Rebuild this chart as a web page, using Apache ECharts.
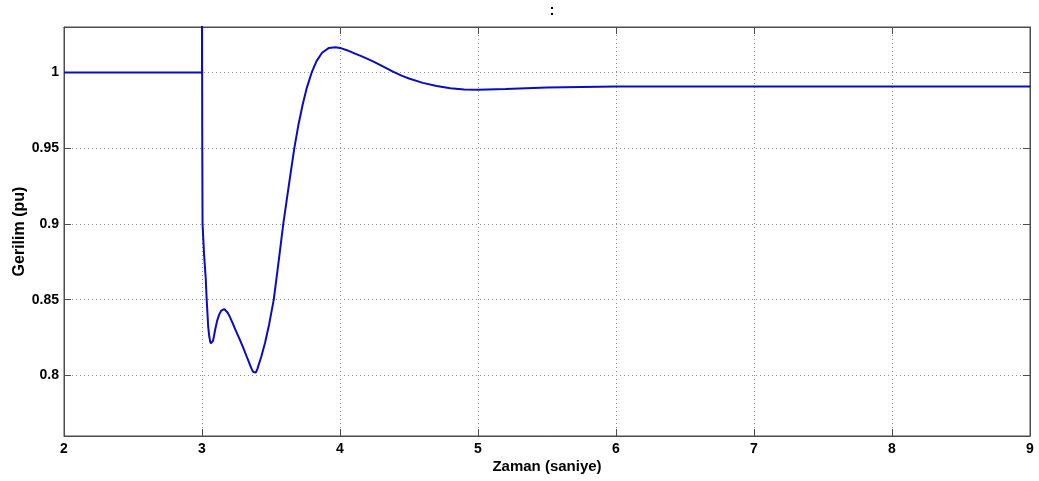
<!DOCTYPE html>
<html>
<head>
<meta charset="utf-8">
<script src="https://cdn.jsdelivr.net/npm/echarts@6/dist/echarts.min.js"></script>
<style>
html,body{margin:0;padding:0;background:#fff;}
#chart{width:1039px;height:481px;}
</style>
</head>
<body>
<div id="chart"></div>
<script>
// Time (s) and voltage (pu)
const time = [2, 3, 3, 3.0005, 3.002, 3.004, 3.015, 3.027, 3.034, 3.045, 3.053, 3.059, 3.064, 3.068, 3.073, 3.08, 3.088, 3.096, 3.11, 3.125, 3.14, 3.152, 3.161, 3.172, 3.185, 3.2, 3.22, 3.24, 3.27, 3.3, 3.33, 3.35, 3.362, 3.372, 3.38, 3.39, 3.402, 3.43, 3.457, 3.486, 3.52, 3.555, 3.589, 3.63, 3.669, 3.7, 3.73, 3.76, 3.795, 3.83, 3.87, 3.92, 3.965, 4.0, 4.05, 4.1, 4.15, 4.2, 4.25, 4.3, 4.38, 4.45, 4.5, 4.6, 4.7, 4.8, 4.9, 5.0, 5.2, 5.5, 6.0, 7.0, 8.0, 9.0];
const voltage = [1.0, 1.0, 1.08, 1.03, 0.95, 0.9, 0.88, 0.864, 0.85, 0.832, 0.8255, 0.8225, 0.8211, 0.8207, 0.821, 0.8228, 0.8265, 0.8305, 0.8362, 0.8403, 0.8428, 0.8437, 0.8438, 0.8432, 0.8415, 0.839, 0.835, 0.8305, 0.8245, 0.818, 0.811, 0.8065, 0.8038, 0.8022, 0.8016, 0.8019, 0.8045, 0.8125, 0.8215, 0.8335, 0.85, 0.875, 0.9, 0.926, 0.95, 0.966, 0.979, 0.99, 1.0, 1.0075, 1.013, 1.0162, 1.0167, 1.0162, 1.0147, 1.0128, 1.0109, 1.009, 1.0068, 1.0045, 1.0007, 0.9977, 0.996, 0.9931, 0.991, 0.9895, 0.9887, 0.9886, 0.9891, 0.9901, 0.9908, 0.9908, 0.9908, 0.9908];
const xTicks = [2, 3, 4, 5, 6, 7, 8, 9];
const yTicks = [0.8, 0.85, 0.9, 0.95, 1];

const chart = echarts.init(document.getElementById('chart'));
const fontFam = '"Liberation Sans", Arial, sans-serif';
const axisCol = '#4d4d4d';
const gridLine = {show: true, lineStyle: {color: '#8c8c8c', type: [1, 3], width: 1}};

chart.setOption({
  animation: false,
  backgroundColor: '#ffffff',
  title: {
    text: ':', left: 547, top: -2, textAlign: 'center',
    textStyle: {fontFamily: fontFam, fontSize: 15, fontWeight: 'bold', color: '#000'}
  },
  grid: {left: 64, right: 9, top: 27, bottom: 45, show: true, borderColor: axisCol, borderWidth: 1,
    backgroundColor: '#fff', containLabel: false, outerBoundsMode: 'none'},
  xAxis: [{
    type: 'value', min: 2, max: 9, interval: 1,
    name: 'Zaman (saniye)', nameLocation: 'middle', nameGap: 23, nameMoveOverlap: false,
    nameTextStyle: {fontFamily: fontFam, fontSize: 15, fontWeight: 'bold', color: '#000'},
    axisLine: {show: true, onZero: false, lineStyle: {color: axisCol}},
    axisTick: {show: true, inside: true, length: 7, lineStyle: {color: axisCol}},
    axisLabel: {fontFamily: fontFam, fontSize: 14, fontWeight: 'bold', color: '#000', margin: 6,
      formatter: v => xTicks.includes(v) ? String(v) : ''},
    splitLine: gridLine
  }, {
    type: 'value', min: 2, max: 9, interval: 1, position: 'top',
    axisLine: {show: true, onZero: false, lineStyle: {color: axisCol}},
    axisTick: {show: true, inside: true, length: 7, lineStyle: {color: axisCol}},
    axisLabel: {show: false}, splitLine: {show: false}
  }],
  yAxis: [{
    type: 'value', min: 0.76, max: 1.03,
    name: 'Gerilim (pu)', nameLocation: 'middle', nameGap: 36, nameMoveOverlap: false,
    nameTextStyle: {fontFamily: fontFam, fontSize: 16, fontWeight: 'bold', color: '#000'},
    axisLine: {show: true, onZero: false, lineStyle: {color: axisCol}},
    axisTick: {show: true, inside: true, length: 7, lineStyle: {color: axisCol},
      customValues: yTicks},
    axisLabel: {fontFamily: fontFam, fontSize: 14, fontWeight: 'bold', color: '#000', margin: 5,
      customValues: yTicks, formatter: v => String(Math.round(v * 100) / 100)},
    splitLine: gridLine
  }, {
    type: 'value', min: 0.76, max: 1.03, position: 'right',
    axisLine: {show: true, onZero: false, lineStyle: {color: axisCol}},
    axisTick: {show: true, inside: true, length: 7, lineStyle: {color: axisCol}, customValues: yTicks},
    axisLabel: {show: false}, splitLine: {show: false}
  }],
  series: [{
    type: 'line',
    data: time.map((t, i) => [t, voltage[i]]),
    showSymbol: false,
    smooth: false,
    clip: true,
    lineStyle: {color: '#0b0bc4', width: 2},
    xAxisIndex: 0, yAxisIndex: 0
  }]
});
</script>
</body>
</html>
